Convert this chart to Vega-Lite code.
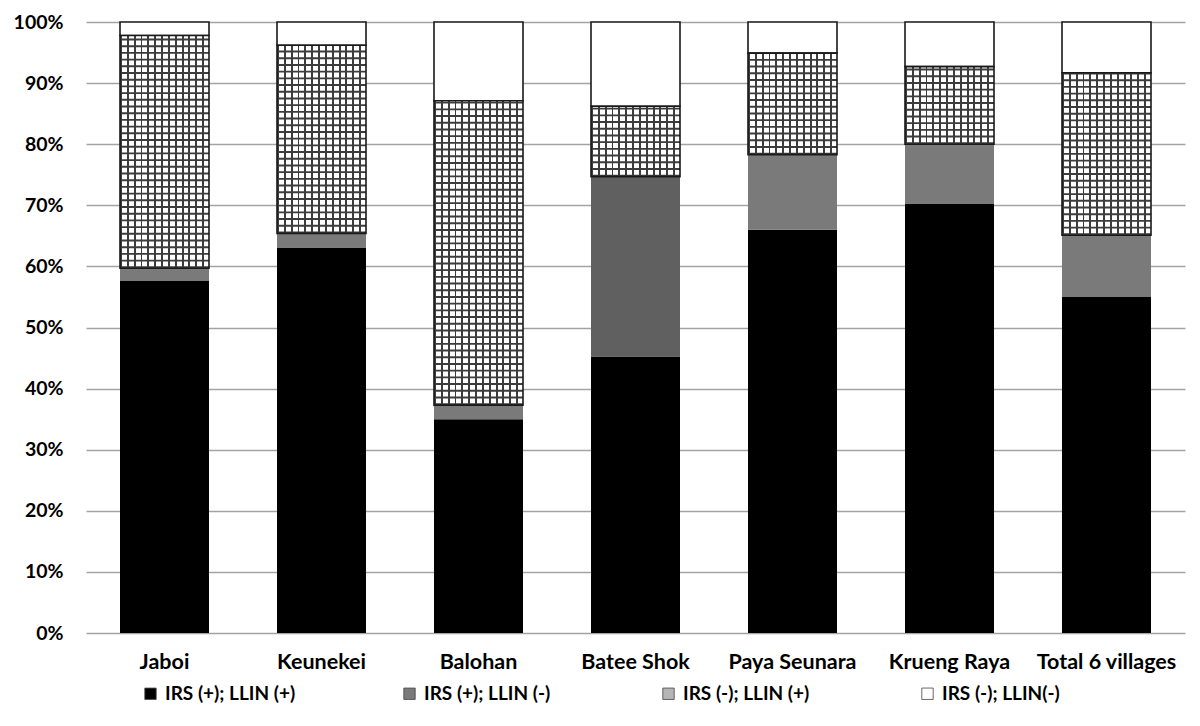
{
  "$schema": "https://vega.github.io/schema/vega-lite/v6.json",
  "width": 1099,
  "height": 611,
  "autosize": {"type": "none"},
  "padding": {"left": 86, "top": 22, "right": 15, "bottom": 93},
  "background": "#ffffff",
  "config": {
    "view": {"stroke": null},
    "font": "Lato",
    "axis": {"labelFont": "Lato", "labelFontWeight": "bold", "labelColor": "#000000", "title": null},
    "legend": {"labelFont": "Lato", "labelFontWeight": "bold", "labelColor": "#000000"}
  },
  "data": {
    "values": [
      {"village": "Jaboi", "category": "IRS (+); LLIN (+)", "order": 1, "value": 57.6},
      {"village": "Jaboi", "category": "IRS (+); LLIN (-)", "order": 2, "value": 2.1},
      {"village": "Jaboi", "category": "IRS (-); LLIN (+)", "order": 3, "value": 38.1},
      {"village": "Jaboi", "category": "IRS (-); LLIN(-)", "order": 4, "value": 2.2},
      {"village": "Keunekei", "category": "IRS (+); LLIN (+)", "order": 1, "value": 63.1},
      {"village": "Keunekei", "category": "IRS (+); LLIN (-)", "order": 2, "value": 2.3},
      {"village": "Keunekei", "category": "IRS (-); LLIN (+)", "order": 3, "value": 30.8},
      {"village": "Keunekei", "category": "IRS (-); LLIN(-)", "order": 4, "value": 3.8},
      {"village": "Balohan", "category": "IRS (+); LLIN (+)", "order": 1, "value": 35.0},
      {"village": "Balohan", "category": "IRS (+); LLIN (-)", "order": 2, "value": 2.3},
      {"village": "Balohan", "category": "IRS (-); LLIN (+)", "order": 3, "value": 49.8},
      {"village": "Balohan", "category": "IRS (-); LLIN(-)", "order": 4, "value": 12.9},
      {"village": "Batee Shok", "category": "IRS (+); LLIN (+)", "order": 1, "value": 45.2},
      {"village": "Batee Shok", "category": "IRS (+); LLIN (-)", "order": 2, "value": 29.5},
      {"village": "Batee Shok", "category": "IRS (-); LLIN (+)", "order": 3, "value": 11.5},
      {"village": "Batee Shok", "category": "IRS (-); LLIN(-)", "order": 4, "value": 13.8},
      {"village": "Paya Seunara", "category": "IRS (+); LLIN (+)", "order": 1, "value": 66.0},
      {"village": "Paya Seunara", "category": "IRS (+); LLIN (-)", "order": 2, "value": 12.3},
      {"village": "Paya Seunara", "category": "IRS (-); LLIN (+)", "order": 3, "value": 16.6},
      {"village": "Paya Seunara", "category": "IRS (-); LLIN(-)", "order": 4, "value": 5.1},
      {"village": "Krueng Raya", "category": "IRS (+); LLIN (+)", "order": 1, "value": 70.3},
      {"village": "Krueng Raya", "category": "IRS (+); LLIN (-)", "order": 2, "value": 9.7},
      {"village": "Krueng Raya", "category": "IRS (-); LLIN (+)", "order": 3, "value": 12.7},
      {"village": "Krueng Raya", "category": "IRS (-); LLIN(-)", "order": 4, "value": 7.3},
      {"village": "Total 6 villages", "category": "IRS (+); LLIN (+)", "order": 1, "value": 55.0},
      {"village": "Total 6 villages", "category": "IRS (+); LLIN (-)", "order": 2, "value": 10.1},
      {"village": "Total 6 villages", "category": "IRS (-); LLIN (+)", "order": 3, "value": 26.6},
      {"village": "Total 6 villages", "category": "IRS (-); LLIN(-)", "order": 4, "value": 8.3}
    ]
  },
  "transform": [
    {"stack": "value", "groupby": ["village"], "sort": [{"field": "order", "order": "ascending"}], "as": ["v0", "v1"]}
  ],
  "encoding": {
    "x": {
      "field": "village",
      "type": "nominal",
      "sort": ["Jaboi", "Keunekei", "Balohan", "Batee Shok", "Paya Seunara", "Krueng Raya", "Total 6 villages"],
      "scale": {"paddingInner": 0, "paddingOuter": 0},
      "axis": {"domain": false, "ticks": false, "labelAngle": 0, "labelFontSize": 21.5, "labelPadding": 18, "grid": false}
    },
    "y": {
      "field": "v0",
      "type": "quantitative",
      "scale": {"domain": [0, 100], "nice": false},
      "axis": {
        "values": [0, 10, 20, 30, 40, 50, 60, 70, 80, 90, 100],
        "labelExpr": "datum.value + '%'",
        "domain": false,
        "ticks": false,
        "grid": true,
        "gridColor": "#a3a3a3",
        "gridWidth": 1.4,
        "labelFontSize": 19.5,
        "labelPadding": 23
      }
    },
    "y2": {"field": "v1"}
  },
  "layer": [
    {
      "mark": {"type": "bar", "width": 89, "strokeWidth": 1.6},
      "encoding": {
        "color": {
          "field": "category",
          "type": "nominal",
          "sort": ["IRS (+); LLIN (+)", "IRS (+); LLIN (-)", "IRS (-); LLIN (+)", "IRS (-); LLIN(-)"],
          "scale": {
            "domain": ["IRS (+); LLIN (+)", "IRS (+); LLIN (-)", "IRS (-); LLIN (+)", "IRS (-); LLIN(-)"],
            "range": ["#000000", "#7a7a7a", "#b5b5b5", "#ffffff"]
          },
          "legend": {
            "title": null,
            "orient": "none",
            "legendX": 55,
            "legendY": 662,
            "direction": "horizontal",
            "columns": 4,
            "gridAlign": "all",
            "columnPadding": 104,
            "padding": 0,
            "symbolType": "square",
            "symbolSize": 130,
            "symbolStrokeColor": "#444444",
            "symbolStrokeWidth": 0.8,
            "symbolOpacity": 1,
            "labelFontSize": 19,
            "labelOffset": 5,
            "labelLimit": 300
          }
        },
        "stroke": {
          "condition": {"test": "datum.category === 'IRS (-); LLIN(-)'", "value": "#1a1a1a"},
          "value": "transparent"
        }
      }
    },
    {
      "transform": [{"filter": "datum.village === 'Batee Shok' && datum.category === 'IRS (+); LLIN (-)'"}],
      "mark": {"type": "bar", "width": 89, "fill": "#606060"}
    },
    {
      "transform": [{"filter": "datum.category === 'IRS (-); LLIN (+)'"}],
      "mark": {
        "type": "bar",
        "width": 89,
        "fill": {
          "gradient": "linear",
          "x1": 0, "y1": 0, "x2": 1, "y2": 0,
          "stops": [
            {"offset": 0, "color": "#3c3c3c"}, {"offset": 0.022, "color": "#3c3c3c"}, {"offset": 0.022, "color": "#ffffff"}, {"offset": 0.0769, "color": "#ffffff"},
            {"offset": 0.0769, "color": "#3c3c3c"}, {"offset": 0.0989, "color": "#3c3c3c"}, {"offset": 0.0989, "color": "#ffffff"}, {"offset": 0.1538, "color": "#ffffff"},
            {"offset": 0.1538, "color": "#3c3c3c"}, {"offset": 0.1758, "color": "#3c3c3c"}, {"offset": 0.1758, "color": "#ffffff"}, {"offset": 0.2308, "color": "#ffffff"},
            {"offset": 0.2308, "color": "#3c3c3c"}, {"offset": 0.2528, "color": "#3c3c3c"}, {"offset": 0.2528, "color": "#ffffff"}, {"offset": 0.3077, "color": "#ffffff"},
            {"offset": 0.3077, "color": "#3c3c3c"}, {"offset": 0.3297, "color": "#3c3c3c"}, {"offset": 0.3297, "color": "#ffffff"}, {"offset": 0.3846, "color": "#ffffff"},
            {"offset": 0.3846, "color": "#3c3c3c"}, {"offset": 0.4066, "color": "#3c3c3c"}, {"offset": 0.4066, "color": "#ffffff"}, {"offset": 0.4615, "color": "#ffffff"},
            {"offset": 0.4615, "color": "#3c3c3c"}, {"offset": 0.4835, "color": "#3c3c3c"}, {"offset": 0.4835, "color": "#ffffff"}, {"offset": 0.5385, "color": "#ffffff"},
            {"offset": 0.5385, "color": "#3c3c3c"}, {"offset": 0.5605, "color": "#3c3c3c"}, {"offset": 0.5605, "color": "#ffffff"}, {"offset": 0.6154, "color": "#ffffff"},
            {"offset": 0.6154, "color": "#3c3c3c"}, {"offset": 0.6374, "color": "#3c3c3c"}, {"offset": 0.6374, "color": "#ffffff"}, {"offset": 0.6923, "color": "#ffffff"},
            {"offset": 0.6923, "color": "#3c3c3c"}, {"offset": 0.7143, "color": "#3c3c3c"}, {"offset": 0.7143, "color": "#ffffff"}, {"offset": 0.7692, "color": "#ffffff"},
            {"offset": 0.7692, "color": "#3c3c3c"}, {"offset": 0.7912, "color": "#3c3c3c"}, {"offset": 0.7912, "color": "#ffffff"}, {"offset": 0.8462, "color": "#ffffff"},
            {"offset": 0.8462, "color": "#3c3c3c"}, {"offset": 0.8682, "color": "#3c3c3c"}, {"offset": 0.8682, "color": "#ffffff"}, {"offset": 0.9231, "color": "#ffffff"},
            {"offset": 0.9231, "color": "#3c3c3c"}, {"offset": 0.9451, "color": "#3c3c3c"}, {"offset": 0.9451, "color": "#ffffff"}, {"offset": 1, "color": "#ffffff"}
          ]
        }
      }
    },
    {
      "transform": [{"filter": "datum.category === 'IRS (-); LLIN (+)'"}],
      "mark": {"type": "rule", "strokeWidth": 89, "strokeDash": [1.9, 4.8], "strokeCap": "butt", "color": "#3c3c3c"},
      "encoding": {}
    },
    {
      "transform": [{"filter": "datum.category === 'IRS (-); LLIN (+)'"}],
      "mark": {"type": "bar", "width": 89, "fill": "transparent", "stroke": "#1a1a1a", "strokeWidth": 1.6}
    }
  ]
}
